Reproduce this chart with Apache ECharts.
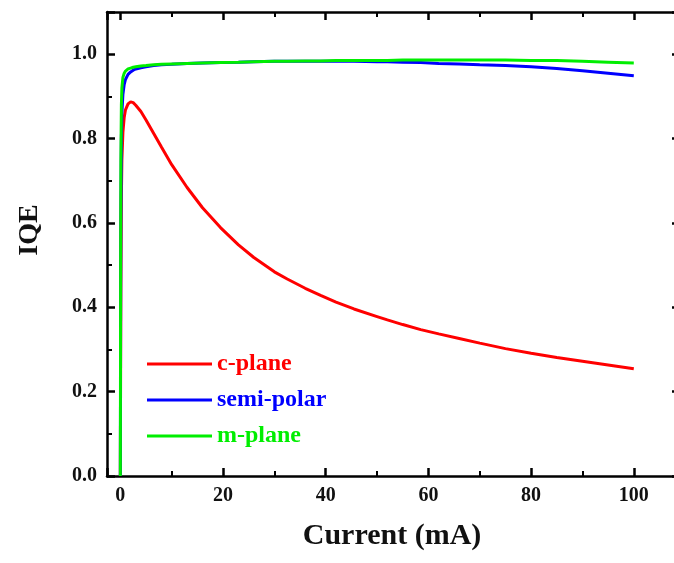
<!DOCTYPE html>
<html>
<head>
<meta charset="utf-8">
<script src="https://cdn.jsdelivr.net/npm/echarts@6/dist/echarts.min.js"></script>
<style>html,body{margin:0;padding:0;background:#fff;overflow:hidden;}#c{width:700px;height:563px;}</style>
</head>
<body>
<div id="c"></div>
<script>
const current = [0, 0.05, 0.1, 0.2, 0.3, 0.5, 0.75, 1, 1.5, 2, 2.5, 3, 4, 5, 6.5, 8, 10, 13, 16, 19.5, 23, 26, 30, 32.5, 36, 39, 42, 45.5, 50, 52, 55, 58.5, 62, 66, 70, 75, 80, 85, 90, 95, 100];
const cPlane = [0, 0.25, 0.45, 0.66, 0.75, 0.815, 0.85, 0.868, 0.882, 0.887, 0.885, 0.879, 0.864, 0.844, 0.812, 0.78, 0.738, 0.684, 0.636, 0.589, 0.548, 0.518, 0.484, 0.467, 0.445, 0.428, 0.412, 0.396, 0.378, 0.370, 0.359, 0.347, 0.337, 0.326, 0.315, 0.302, 0.291, 0.281, 0.272, 0.263, 0.254];
const semiPolar = [0, 0.35, 0.6, 0.8, 0.86, 0.905, 0.928, 0.94, 0.952, 0.958, 0.962, 0.965, 0.968, 0.970, 0.973, 0.975, 0.976, 0.978, 0.979, 0.980, 0.981, 0.982, 0.983, 0.983, 0.983, 0.983, 0.983, 0.983, 0.982, 0.982, 0.981, 0.980, 0.978, 0.977, 0.975, 0.973, 0.970, 0.966, 0.961, 0.955, 0.949];
const mPlane = [0, 0.5, 0.75, 0.88, 0.92, 0.945, 0.955, 0.960, 0.965, 0.967, 0.969, 0.970, 0.972, 0.973, 0.975, 0.976, 0.977, 0.978, 0.979, 0.980, 0.981, 0.982, 0.983, 0.983, 0.984, 0.984, 0.985, 0.985, 0.985, 0.985, 0.986, 0.986, 0.986, 0.986, 0.986, 0.986, 0.985, 0.985, 0.983, 0.981, 0.979];
const seriesNames = ['c-plane', 'semi-polar', 'm-plane'];
const seriesColors = ['#ff0000', '#0000ff', '#00ee00'];
const xTitle = 'Current (mA)';
const yTitle = 'IQE';

const FONT = 'Liberation Serif';
const pairs = arr => current.map((x, i) => [x, arr[i]]);
const allData = [cPlane, semiPolar, mPlane];

const axisLine = { show: true, onZero: false, lineStyle: { color: '#000', width: 2.5 } };
const tick = { inside: true, length: 8, lineStyle: { width: 2.5, color: '#000' } };
const minor = { show: true, splitNumber: 2, length: 5, lineStyle: { width: 2, color: '#000' } };
const chart = echarts.init(document.getElementById('c'), null, { renderer: 'canvas' });
chart.setOption({
  animation: false,
  backgroundColor: '#fff',
  grid: { left: 107, right: 20, top: 12, bottom: 87, containLabel: false },
  xAxis: [
    { type: 'value', min: -2.6, max: 109, splitNumber: 5, position: 'bottom',
      axisLine, axisTick: tick, minorTick: minor, splitLine: { show: false },
      axisLabel: { showMinLabel: false, showMaxLabel: false, fontFamily: FONT, fontWeight: 'bold', fontSize: 20, color: '#111', margin: 10 } },
    { type: 'value', min: -2.6, max: 109, splitNumber: 5, position: 'top',
      axisLine, axisTick: tick, minorTick: minor, splitLine: { show: false }, axisLabel: { show: false } }
  ],
  yAxis: [
    { type: 'value', min: 0, max: 1.1, interval: 0.2, position: 'left',
      axisLine, axisTick: tick, minorTick: minor, splitLine: { show: false },
      axisLabel: { showMaxLabel: false, formatter: v => v.toFixed(1), fontFamily: FONT, fontWeight: 'bold', fontSize: 20, color: '#111', margin: 10 } },
    { type: 'value', min: 0, max: 1.1, interval: 0.2, position: 'right',
      axisLine, axisTick: tick, minorTick: minor, splitLine: { show: false }, axisLabel: { show: false } }
  ],
  legend: {
    orient: 'vertical', left: 142, top: 347, itemWidth: 65, itemHeight: 3, itemGap: 12,
    icon: 'rect',
    data: seriesNames.map((n, i) => ({ name: n, textStyle: { color: seriesColors[i] } })),
    textStyle: { fontFamily: FONT, fontWeight: 'bold', fontSize: 24, lineHeight: 24 }
  },
  graphic: [
    { type: 'text', x: 392, y: 536, style: { text: xTitle, fontFamily: FONT, fontWeight: 'bold', fontSize: 30, fill: '#111', textAlign: 'center', textVerticalAlign: 'middle' } },
    { type: 'text', x: 30, y: 230, rotation: Math.PI / 2, style: { text: yTitle, fontFamily: FONT, fontWeight: 'bold', fontSize: 28, fill: '#111', textAlign: 'center', textVerticalAlign: 'middle' } }
  ],
  series: seriesNames.map((n, i) => ({
    name: n, type: 'line', data: pairs(allData[i]), showSymbol: false, symbol: 'none',
    lineStyle: { color: seriesColors[i], width: 3 }, itemStyle: { color: seriesColors[i] },
    clip: true, z: 2 + i
  }))
});
</script>
</body>
</html>
